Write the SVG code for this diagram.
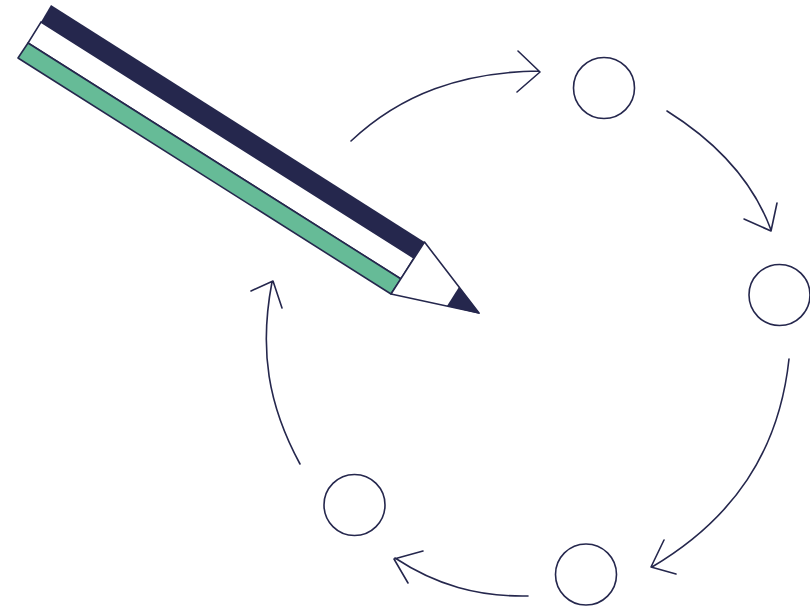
<svg xmlns="http://www.w3.org/2000/svg" width="810" height="607" viewBox="0 0 810 607">
<style>
.l{fill:none;stroke:#25274d;stroke-width:1.6;stroke-linecap:round;stroke-linejoin:round}
.n{fill:#fff;stroke:#25274d;stroke-width:1.6}
.d{fill:#25274d}
</style>
<g id="connectors">
<path class="l" d="M351 141C401 94 462 72 539 71M517 92L540 72L518 51"/>
<path class="l" d="M667 111C718 143 753 181 771 230M744 219L771 231L777 203"/>
<path class="l" d="M789 359C779 452 733 519 652 567M664 540L651 567L676 574"/>
<path class="l" d="M528 596C478 597 436 585 395 558M423 551L394 559L408 583"/>
<path class="l" d="M300 464C268 405 259 350 272 282M251 291L273 281L282 308"/>
</g>
<g id="node1"><circle class="n" cx="604" cy="88" r="30.500"/></g>
<g id="node2"><circle class="n" cx="779.500" cy="295" r="30.500"/></g>
<g id="node3"><circle class="n" cx="586" cy="574.500" r="30.500"/></g>
<g id="node4"><circle class="n" cx="354.500" cy="505" r="30.500"/></g>
<g id="pencil">
<polygon class="d" points="51,5 424.500,242 414,258 41,22"/>
<polygon class="n" points="41,22 414,258 401,279 28,43"/>
<polygon points="28,43 401,279 391,294 18,58" fill="#66bb97" stroke="#25274d" stroke-width="1.600" stroke-linejoin="round"/>
<polygon class="n" stroke-linejoin="round" points="424.500,242 479,313 391,294"/>
<polygon class="d" points="459,287 480,314 447,306"/>
</g>
</svg>
